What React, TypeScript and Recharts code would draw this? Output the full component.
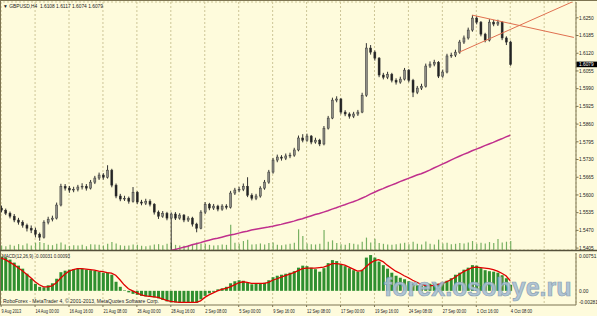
import { Bar, CartesianGrid, ComposedChart, Line, ReferenceLine, XAxis, YAxis } from 'recharts';

// MetaTrader-ish palette
const BG = '#fefbdc';
const GRID = '#cdc597';
const FRAME = '#7d7452';
const FONT = '"Liberation Sans", Arial, sans-serif';

// GBPUSD candles, one per slot (two H4 bars each)
const opens = [
  1.5552, 1.5544, 1.5533, 1.5522, 1.5508, 1.5500, 1.5489, 1.5478, 1.5471, 1.5456,
  1.5445, 1.5500, 1.5511, 1.5515, 1.5563, 1.5632, 1.5625, 1.5618, 1.5621, 1.5629,
  1.5632, 1.5625, 1.5647, 1.5662, 1.5673, 1.5665, 1.5691, 1.5636, 1.5596, 1.5585,
  1.5588, 1.5577, 1.5610, 1.5574, 1.5570, 1.5577, 1.5566, 1.5537, 1.5522, 1.5533,
  1.5515, 1.5530, 1.5515, 1.5526, 1.5508, 1.5515, 1.5493, 1.5478, 1.5537, 1.5566,
  1.5552, 1.5559, 1.5548, 1.5559, 1.5555, 1.5607, 1.5618, 1.5621, 1.5632, 1.5599,
  1.5588, 1.5596, 1.5625, 1.5647, 1.5684, 1.5728, 1.5739, 1.5735, 1.5743, 1.5746,
  1.5765, 1.5809, 1.5801, 1.5816, 1.5794, 1.5801, 1.5787, 1.5845, 1.5882, 1.5948,
  1.5952, 1.5904, 1.5897, 1.5889, 1.5897, 1.5904, 1.5966, 1.6139, 1.6124, 1.6102,
  1.6040, 1.6032, 1.6043, 1.6021, 1.6014, 1.6025, 1.6058, 1.6021, 1.5977, 1.5992,
  1.5999, 1.6073, 1.6080, 1.6087, 1.6036, 1.6051, 1.6110, 1.6113, 1.6124, 1.6161,
  1.6176, 1.6205, 1.6249, 1.6234, 1.6190, 1.6168, 1.6234, 1.6227, 1.6234, 1.6176,
  1.6161,
];
const highs = [
  1.5561, 1.5550, 1.5539, 1.5530, 1.5516, 1.5507, 1.5495, 1.5488, 1.5480, 1.5462,
  1.5507, 1.5520, 1.5524, 1.5572, 1.5641, 1.5640, 1.5633, 1.5630, 1.5637, 1.5643,
  1.5640, 1.5655, 1.5670, 1.5682, 1.5680, 1.5709, 1.5696, 1.5642, 1.5604, 1.5597,
  1.5594, 1.5629, 1.5614, 1.5582, 1.5586, 1.5584, 1.5570, 1.5543, 1.5541, 1.5538,
  1.5536, 1.5537, 1.5533, 1.5530, 1.5522, 1.5520, 1.5498, 1.5544, 1.5574, 1.5571,
  1.5567, 1.5564, 1.5566, 1.5566, 1.5615, 1.5626, 1.5630, 1.5642, 1.5665, 1.5606,
  1.5604, 1.5632, 1.5655, 1.5692, 1.5736, 1.5748, 1.5746, 1.5752, 1.5755, 1.5773,
  1.5818, 1.5823, 1.5825, 1.5820, 1.5810, 1.5806, 1.5853, 1.5890, 1.5957, 1.5962,
  1.5956, 1.5911, 1.5903, 1.5905, 1.5912, 1.5975, 1.6157, 1.6150, 1.6130, 1.6106,
  1.6048, 1.6052, 1.6048, 1.6028, 1.6034, 1.6066, 1.6062, 1.6026, 1.6000, 1.6008,
  1.6082, 1.6090, 1.6096, 1.6091, 1.6060, 1.6118, 1.6122, 1.6133, 1.6169, 1.6185,
  1.6214, 1.6260, 1.6256, 1.6238, 1.6195, 1.6245, 1.6242, 1.6243, 1.6238, 1.6182,
  1.6166,
];
const lows = [
  1.5536, 1.5526, 1.5514, 1.5500, 1.5491, 1.5480, 1.5466, 1.5460, 1.5444, 1.5432,
  1.5440, 1.5492, 1.5503, 1.5510, 1.5558, 1.5616, 1.5608, 1.5610, 1.5613, 1.5620,
  1.5616, 1.5620, 1.5640, 1.5655, 1.5656, 1.5660, 1.5628, 1.5588, 1.5577, 1.5578,
  1.5568, 1.5572, 1.5566, 1.5562, 1.5563, 1.5558, 1.5528, 1.5512, 1.5516, 1.5507,
  1.5398, 1.5508, 1.5509, 1.5500, 1.5501, 1.5484, 1.5463, 1.5474, 1.5530, 1.5544,
  1.5545, 1.5540, 1.5542, 1.5547, 1.5550, 1.5600, 1.5610, 1.5614, 1.5592, 1.5580,
  1.5581, 1.5590, 1.5619, 1.5641, 1.5678, 1.5720, 1.5726, 1.5728, 1.5735, 1.5740,
  1.5760, 1.5793, 1.5795, 1.5786, 1.5788, 1.5779, 1.5782, 1.5840, 1.5878, 1.5940,
  1.5896, 1.5889, 1.5880, 1.5882, 1.5890, 1.5900, 1.5960, 1.6115, 1.6093, 1.6032,
  1.6024, 1.6025, 1.6013, 1.6005, 1.6008, 1.6020, 1.6013, 1.5959, 1.5970, 1.5985,
  1.5994, 1.6066, 1.6072, 1.6029, 1.6030, 1.6046, 1.6103, 1.6106, 1.6118, 1.6154,
  1.6170, 1.6199, 1.6226, 1.6182, 1.6160, 1.6163, 1.6219, 1.6220, 1.6168, 1.6150,
  1.6074,
];
const closes = [
  1.5544, 1.5533, 1.5522, 1.5508, 1.5500, 1.5489, 1.5478, 1.5471, 1.5456, 1.5445,
  1.5500, 1.5511, 1.5515, 1.5563, 1.5632, 1.5625, 1.5618, 1.5621, 1.5629, 1.5632,
  1.5625, 1.5647, 1.5662, 1.5673, 1.5665, 1.5691, 1.5636, 1.5596, 1.5585, 1.5588,
  1.5577, 1.5610, 1.5574, 1.5570, 1.5577, 1.5566, 1.5537, 1.5522, 1.5533, 1.5515,
  1.5530, 1.5515, 1.5526, 1.5508, 1.5515, 1.5493, 1.5478, 1.5537, 1.5566, 1.5552,
  1.5559, 1.5548, 1.5559, 1.5555, 1.5607, 1.5618, 1.5621, 1.5632, 1.5599, 1.5588,
  1.5596, 1.5625, 1.5647, 1.5684, 1.5728, 1.5739, 1.5735, 1.5743, 1.5746, 1.5765,
  1.5809, 1.5801, 1.5816, 1.5794, 1.5801, 1.5787, 1.5845, 1.5882, 1.5948, 1.5952,
  1.5904, 1.5897, 1.5889, 1.5897, 1.5904, 1.5966, 1.6139, 1.6124, 1.6102, 1.6040,
  1.6032, 1.6043, 1.6021, 1.6014, 1.6025, 1.6058, 1.6021, 1.5977, 1.5992, 1.5999,
  1.6073, 1.6080, 1.6087, 1.6036, 1.6051, 1.6110, 1.6113, 1.6124, 1.6161, 1.6176,
  1.6205, 1.6249, 1.6234, 1.6190, 1.6168, 1.6234, 1.6227, 1.6234, 1.6176, 1.6161,
  1.6079,
];
const volumes = [
  1300, 1100, 1500, 1200, 1700, 1400, 1900, 1300, 2100, 2300,
  2000, 1500, 1400, 1800, 2200, 1600, 1200, 1400, 1300, 1500,
  1100, 1700, 1600, 1500, 1300, 1800, 2300, 1900, 1400, 1200,
  1300, 1600, 1500, 1200, 1100, 1300, 1600, 1700, 1400, 1800,
  2000, 1500, 1300, 1200, 1400, 1700, 2200, 1900, 1800, 1500,
  1300, 1400, 1600, 1500, 7300, 2100, 1800, 2600, 3000, 1600,
  1700, 1900, 1600, 2000, 2200, 1500, 1400, 1600, 1800, 2100,
  6000, 4100, 1900, 1700, 1600, 1800, 5800, 2400, 2800, 2000,
  1700, 1500, 2000, 1800, 1600, 2400, 3600, 2200, 3300, 2000,
  1800, 1600, 1500, 1700, 1900, 2100, 1700, 2400, 1800, 1600,
  2500, 1800, 1600, 3000, 1900, 2100, 1700, 1800, 2000, 1900,
  2200, 2600, 1800, 2100, 1900, 2300, 2000, 3200, 2200, 2400,
  2600,
];
// long moving average, visible from slot 40 on
const maStart = 40;
const maValues = [
  1.5396, 1.5400, 1.5404, 1.5408, 1.5412, 1.5417, 1.5421, 1.5425, 1.5430, 1.5434,
  1.5438, 1.5441, 1.5445, 1.5449, 1.5453, 1.5456, 1.5460, 1.5464, 1.5467, 1.5471,
  1.5474, 1.5477, 1.5480, 1.5482, 1.5485, 1.5489, 1.5492, 1.5496, 1.5500, 1.5504,
  1.5509, 1.5513, 1.5518, 1.5523, 1.5528, 1.5532, 1.5537, 1.5542, 1.5548, 1.5553,
  1.5559, 1.5564, 1.5570, 1.5575, 1.5581, 1.5588, 1.5595, 1.5603, 1.5610, 1.5617,
  1.5623, 1.5630, 1.5636, 1.5642, 1.5649, 1.5655, 1.5661, 1.5667, 1.5673, 1.5678,
  1.5684, 1.5691, 1.5699, 1.5706, 1.5713, 1.5720, 1.5728, 1.5735, 1.5742, 1.5749,
  1.5755, 1.5762, 1.5768, 1.5774, 1.5781, 1.5787, 1.5793, 1.5800, 1.5806, 1.5813,
  1.5819,
];
const macdMain = [
  0.0068, 0.0066, 0.0062, 0.0056, 0.0050, 0.0044, 0.0034, 0.0024, 0.0014, 0.0008,
  0.0007, 0.0011, 0.0015, 0.0024, 0.0037, 0.0040, 0.0042, 0.0043, 0.0044, 0.0044,
  0.0042, 0.0041, 0.0040, 0.0038, 0.0036, 0.0036, 0.0032, 0.0018, 0.0008, 0.0001,
  -0.0003, -0.0006, -0.0008, -0.0010, -0.0011, -0.0012, -0.0013, -0.0015, -0.0018, -0.0021,
  -0.0023, -0.0023, -0.0024, -0.0023, -0.0023, -0.0024, -0.0024, -0.0017, -0.0010, -0.0005,
  -0.0002, 0.0003, 0.0005, 0.0008, 0.0015, 0.0019, 0.0021, 0.0020, 0.0016, 0.0013,
  0.0014, 0.0015, 0.0016, 0.0021, 0.0027, 0.0030, 0.0032, 0.0034, 0.0036, 0.0039,
  0.0046, 0.0050, 0.0049, 0.0046, 0.0043, 0.0038, 0.0045, 0.0055, 0.0061, 0.0059,
  0.0053, 0.0049, 0.0045, 0.0041, 0.0038, 0.0042, 0.0066, 0.0071, 0.0066, 0.0058,
  0.0051, 0.0044, 0.0036, 0.0030, 0.0026, 0.0023, 0.0019, 0.0014, 0.0011, 0.0010,
  0.0012, 0.0014, 0.0015, 0.0014, 0.0016, 0.0020, 0.0025, 0.0032, 0.0036, 0.0042,
  0.0046, 0.0051, 0.0050, 0.0045, 0.0041, 0.0039, 0.0038, 0.0036, 0.0031, 0.0025,
  0.0012,
];
const macdSignal = [
  0.0065, 0.0062, 0.0057, 0.0052, 0.0046, 0.0040, 0.0033, 0.0026, 0.0018, 0.0012,
  0.0008, 0.0008, 0.0010, 0.0016, 0.0025, 0.0033, 0.0039, 0.0042, 0.0044, 0.0044,
  0.0043, 0.0042, 0.0041, 0.0039, 0.0038, 0.0036, 0.0035, 0.0031, 0.0022, 0.0012,
  0.0004, 0.0000, -0.0004, -0.0008, -0.0010, -0.0011, -0.0012, -0.0013, -0.0016, -0.0019,
  -0.0021, -0.0022, -0.0023, -0.0023, -0.0023, -0.0023, -0.0023, -0.0020, -0.0013, -0.0008,
  -0.0004, 0.0000, 0.0003, 0.0005, 0.0008, 0.0012, 0.0016, 0.0018, 0.0017, 0.0015,
  0.0015, 0.0015, 0.0015, 0.0017, 0.0021, 0.0024, 0.0027, 0.0030, 0.0033, 0.0036,
  0.0040, 0.0044, 0.0045, 0.0045, 0.0045, 0.0046, 0.0047, 0.0050, 0.0054, 0.0054,
  0.0053, 0.0051, 0.0047, 0.0043, 0.0039, 0.0040, 0.0048, 0.0055, 0.0060, 0.0062,
  0.0058, 0.0051, 0.0045, 0.0039, 0.0035, 0.0030, 0.0026, 0.0021, 0.0017, 0.0013,
  0.0011, 0.0010, 0.0011, 0.0013, 0.0015, 0.0018, 0.0022, 0.0027, 0.0033, 0.0038,
  0.0042, 0.0046, 0.0047, 0.0046, 0.0045, 0.0044, 0.0042, 0.0039, 0.0035, 0.0030,
  0.0020,
];

const priceTicks = [
  1.5405, 1.547, 1.5535, 1.56, 1.5665, 1.573, 1.5795, 1.586, 1.5925, 1.599, 1.6055, 1.612, 1.6185, 1.625,
];
const macdTicks = [-0.00281, 0, 0.00751];
const timeTicks = [0, 8, 16, 24, 32, 40, 48, 56, 64, 72, 80, 88, 96, 104, 112, 120, 128];
const timeLabels = [
  '9 Aug 2013', '14 Aug 00:00', '16 Aug 16:00', '21 Aug 08:00', '26 Aug 00:00', '28 Aug 16:00',
  '2 Sep 08:00', '5 Sep 00:00', '9 Sep 16:00', '12 Sep 08:00', '17 Sep 00:00', '19 Sep 16:00',
  '24 Sep 08:00', '27 Sep 00:00', '1 Oct 16:00', '4 Oct 08:00',
];
const lastPrice = 1.6079;
const trendUp = [{ x: 108, y: 1.6124 }, { x: 135, y: 1.6311 }];
const trendDown = [{ x: 111, y: 1.626 }, { x: 135, y: 1.6178 }];

const SLOTS = 136; // chart leaves empty space right of the last bar
const PRICE_DOMAIN: [number, number] = [1.5398, 1.6308];

const rows = Array.from({ length: SLOTS }, (_, i) => ({
  i,
  range: i < closes.length ? [lows[i], highs[i]] : null,
  open: opens[i],
  high: highs[i],
  low: lows[i],
  close: closes[i],
  vol: volumes[i] ?? null,
  ma: i >= maStart ? maValues[i - maStart] ?? null : null,
  macd: macdMain[i] ?? null,
  signal: macdSignal[i] ?? null,
}));

function Candle(props: any) {
  const { x, y, width, height, payload } = props;
  if (!payload || payload.close == null) return null;
  const top = Math.min(y, y + height);
  const h = Math.abs(height);
  const span = payload.high - payload.low || 1;
  const py = (v: number) => top + ((payload.high - v) / span) * h;
  const cx = x + width / 2;
  const up = payload.close >= payload.open;
  const bTop = py(Math.max(payload.open, payload.close));
  const bBot = py(Math.min(payload.open, payload.close));
  return (
    <g>
      <line x1={cx} x2={cx} y1={top} y2={top + h} stroke="#333" strokeWidth={1} />
      <rect
        x={cx - 1}
        y={bTop}
        width={2}
        height={Math.max(bBot - bTop, 0.8)}
        fill={up ? '#8e8e86' : '#222'}
        stroke="#333"
        strokeWidth={0.5}
      />
    </g>
  );
}

function PriceTick({ x, y, payload }: any) {
  const v = payload.value as number;
  if (v === lastPrice) {
    return (
      <g>
        <rect x={x + 0.5} y={y - 2.8} width={21} height={5.6} fill="#000" />
        <text x={x + 3} y={y + 1.7} fontSize={4.8} fontFamily={FONT} fill="#fff">
          {v.toFixed(4)}
        </text>
      </g>
    );
  }
  return (
    <g>
      <line x1={x} x2={x + 2.5} y1={y} y2={y} stroke={FRAME} />
      <text x={x + 3} y={y + 1.7} fontSize={4.8} fontFamily={FONT} fill="#222">
        {v.toFixed(4)}
      </text>
    </g>
  );
}

function MacdTick({ x, y, payload }: any) {
  const v = payload.value as number;
  const dy = v === macdTicks[2] ? 3 : v === macdTicks[0] ? -2.5 : 0;
  return (
    <text x={x + 3} y={y + dy + 1.7} fontSize={4.8} fontFamily={FONT} fill="#222">
      {v === 0 ? '0.00' : v.toFixed(5)}
    </text>
  );
}

function TimeTick({ x, y, payload }: any) {
  const label = timeLabels[timeTicks.indexOf(payload.value)];
  if (!label) return null;
  return (
    <g>
      <line x1={x} x2={x} y1={y} y2={y + 2} stroke={FRAME} />
      <text
        x={x + 0.5}
        y={y + 7.5}
        fontSize={5.2}
        fontFamily={FONT}
        fill="#222"
        textLength={label.length * 1.95}
        lengthAdjust="spacingAndGlyphs"
      >
        {label}
      </text>
    </g>
  );
}

const mainMargin = { top: 2, right: 0, bottom: 1, left: 0 };

export default function App() {
  return (
    <div
      style={{
        position: 'absolute',
        left: 0,
        top: 0,
        width: 597,
        height: 316,
        background: BG,
        overflow: 'hidden',
      }}
    >
      {/* grid + volumes underneath */}
      <div style={{ position: 'absolute', left: -1, top: 0 }}>
        <ComposedChart width={598} height={251} data={rows} margin={mainMargin}>
          <CartesianGrid stroke={GRID} strokeDasharray="2 2" />
          <XAxis dataKey="i" hide ticks={timeTicks} interval={0} />
          <YAxis
            orientation="right"
            width={21}
            domain={PRICE_DOMAIN}
            ticks={priceTicks}
            interval={0}
            allowDataOverflow
            tick={false}
            tickLine={false}
            axisLine={false}
          />
          <YAxis yAxisId="vol" hide domain={[0, 72000]} />
          <Bar yAxisId="vol" dataKey="vol" fill="#78b062" barSize={1.2} isAnimationActive={false} />
        </ComposedChart>
      </div>

      {/* candles, MA, trendlines, price scale */}
      <div style={{ position: 'absolute', left: -1, top: 0 }}>
        <ComposedChart width={598} height={251} data={rows} margin={mainMargin}>
          <XAxis dataKey="i" hide />
          <YAxis
            orientation="right"
            width={21}
            domain={PRICE_DOMAIN}
            ticks={[...priceTicks, lastPrice]}
            interval={0}
            allowDataOverflow
            tickSize={0}
            tickMargin={0}
            tickLine={false}
            axisLine={{ stroke: FRAME }}
            tick={<PriceTick />}
          />
          <Bar dataKey="range" barSize={3} isAnimationActive={false} shape={(p: any) => <Candle {...p} />} />
          <Line dataKey="ma" stroke="#c02f8c" strokeWidth={1.5} dot={false} isAnimationActive={false} />
          <ReferenceLine segment={trendUp} stroke="#e07050" strokeWidth={1} ifOverflow="hidden" />
          <ReferenceLine segment={trendDown} stroke="#e07050" strokeWidth={1} ifOverflow="hidden" />
        </ComposedChart>
      </div>

      {/* MACD sub-window */}
      <div style={{ position: 'absolute', left: -1, top: 251 }}>
        <ComposedChart width={598} height={65} data={rows} margin={{ top: 2, right: 0, bottom: 0, left: 0 }}>
          <CartesianGrid stroke={GRID} strokeDasharray="2 2" horizontal={false} />
          <XAxis
            dataKey="i"
            ticks={timeTicks}
            interval={0}
            height={11}
            tickSize={0}
            tickMargin={0}
            tickLine={false}
            axisLine={{ stroke: FRAME }}
            tick={<TimeTick />}
          />
          <YAxis
            orientation="right"
            width={21}
            domain={[macdTicks[0], macdTicks[2]]}
            ticks={macdTicks}
            interval={0}
            allowDataOverflow
            tickSize={0}
            tickMargin={0}
            tickLine={false}
            axisLine={{ stroke: FRAME }}
            tick={<MacdTick />}
          />
          <Bar dataKey="macd" fill="#2f8f2f" barSize={3} isAnimationActive={false} />
          <Line dataKey="signal" stroke="#e00000" strokeWidth={1.3} dot={false} isAnimationActive={false} />
        </ComposedChart>
      </div>

      {/* frame, captions and watermark */}
      <svg style={{ position: 'absolute', left: 0, top: 0, pointerEvents: 'none' }} width={597} height={316}>
        <line x1={0} x2={597} y1={0.5} y2={0.5} stroke={FRAME} />
        <line x1={0.5} x2={0.5} y1={0} y2={305} stroke={FRAME} />
        <line x1={0} x2={597} y1={250.5} y2={250.5} stroke="#55503a" strokeWidth={1.6} />
        <text
          x={3}
          y={7.6}
          fontSize={5}
          fontFamily={FONT}
          fill="#222"
          textLength={100}
          lengthAdjust="spacingAndGlyphs"
          style={{ whiteSpace: 'pre' }}
        >
          {'▼ GBPUSD,H4  1.6108 1.6117 1.6074 1.6079'}
        </text>
        <text x={2} y={257.5} fontSize={5} fontFamily={FONT} fill="#222" textLength={68} lengthAdjust="spacingAndGlyphs">
          MACD(12,26,9) -0.00031 0.00093
        </text>
        <text x={3} y={303.3} fontSize={5} fontFamily={FONT} fill="#222" textLength={156} lengthAdjust="spacingAndGlyphs">
          RoboForex - MetaTrader 4, © 2001-2013, MetaQuotes Software Corp.
        </text>
        <text
          x={384}
          y={296}
          fontSize={25}
          fontWeight="bold"
          fontFamily={FONT}
          fill="#a9c0d5"
          stroke="#8199ae"
          strokeWidth={0.7}
          opacity={0.9}
        >
          forex.osobye.ru
        </text>
      </svg>
    </div>
  );
}
